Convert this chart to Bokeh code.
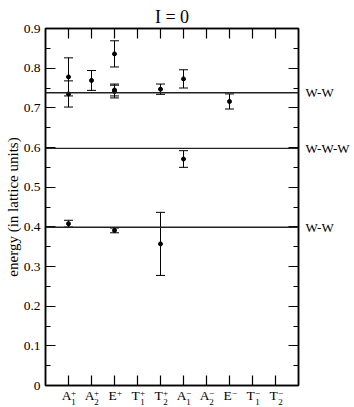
from bokeh.plotting import figure
from bokeh.models import (Range1d, FixedTicker, LinearAxis, Span, Whisker,
                          ColumnDataSource, TeeHead)
from bokeh.embed import file_html
from bokeh.resources import INLINE

# ---- data ----
categories = ["A1+", "A2+", "E+", "T1+", "T2+", "A1-", "A2-", "E-", "T1-", "T2-"]
cat_base = ["A", "A", "E", "T", "T", "A", "A", "E", "T", "T"]
cat_sub = ["1", "2", "", "1", "2", "1", "2", "", "1", "2"]
cat_sup = ["+", "+", "+", "+", "+", "\u2212", "\u2212", "\u2212", "\u2212", "\u2212"]

state_irrep = ["A1+", "A1+", "A2+", "E+", "E+", "E+", "T2+", "A1-", "E-",
               "A1-", "A1+", "E+", "T2+"]
state_energy = [0.778, 0.735, 0.769, 0.836, 0.745, 0.741, 0.747, 0.773, 0.716,
                0.571, 0.408, 0.391, 0.357]
state_error = [0.048, 0.033, 0.025, 0.033, 0.015, 0.016, 0.013, 0.023, 0.019,
               0.021, 0.0085, 0.006, 0.0795]

threshold_energy = [0.738, 0.598, 0.399]
threshold_label = ["W-W", "W-W-W", "W-W"]

y_ticks = [0.0, 0.1, 0.2, 0.3, 0.4, 0.5, 0.6, 0.7, 0.8, 0.9]
y_tick_labels = ["0", "0.1", "0.2", "0.3", "0.4", "0.5", "0.6", "0.7", "0.8", "0.9"]
y_minor = [0.05, 0.15, 0.25, 0.35, 0.45, 0.55, 0.65, 0.75, 0.85]

SERIF = "Liberation Serif"
W, H = 354, 407
BORDER_L, BORDER_R, BORDER_T, BORDER_B = 45, 56, 28, 22
NX = len(categories) + 1
PX = (W - BORDER_L - BORDER_R) / NX      # pixels per category step

xpos = [categories.index(c) + 1 for c in state_irrep]
src = ColumnDataSource(dict(
    x=xpos,
    y=state_energy,
    lower=[e - d for e, d in zip(state_energy, state_error)],
    upper=[e + d for e, d in zip(state_energy, state_error)],
))

p = figure(width=W, height=H, output_backend="svg", toolbar_location=None,
           x_range=Range1d(0, NX), y_range=Range1d(0, 0.9),
           min_border_left=BORDER_L, min_border_right=BORDER_R,
           min_border_top=BORDER_T, min_border_bottom=BORDER_B)

p.title.text = "I = 0"
p.title.align = "center"
p.title.text_font = SERIF
p.title.text_font_size = "18px"
p.title.text_font_style = "normal"
p.title.text_color = "black"
p.title.standoff = 4

p.grid.visible = False
p.outline_line_color = "black"
p.outline_line_width = 1.5
p.background_fill_color = "white"
p.border_fill_color = "white"

xticks = list(range(1, len(categories) + 1))
xt = FixedTicker(ticks=xticks, minor_ticks=[])
yt = FixedTicker(ticks=y_ticks, minor_ticks=y_minor)

def style_axis(ax, blank_ticks=None):
    ax.axis_line_color = "black"
    ax.axis_line_width = 1.5
    ax.major_tick_in = 10
    ax.major_tick_out = 0
    ax.minor_tick_in = 5
    ax.minor_tick_out = 0
    ax.major_tick_line_color = "black"
    ax.minor_tick_line_color = "black"
    ax.major_tick_line_width = 1.2
    ax.minor_tick_line_width = 1.2
    if blank_ticks is not None:
        ax.major_label_overrides = {t: "" for t in blank_ticks}
        ax.major_label_text_font_size = "1px"
        ax.major_label_standoff = 0

# bottom (ticks only)
p.xaxis.ticker = xt
style_axis(p.xaxis[0], xticks)
# left
p.yaxis.ticker = yt
style_axis(p.yaxis[0])
p.yaxis.major_label_overrides = {t: l for t, l in zip(y_ticks, y_tick_labels)}
p.yaxis.major_label_text_font = SERIF
p.yaxis.major_label_text_font_size = "13.5px"
p.yaxis.major_label_text_color = "black"
p.yaxis.major_label_standoff = 5
p.yaxis.axis_label = "energy (in lattice units)"
p.yaxis.axis_label_text_font = SERIF
p.yaxis.axis_label_text_font_size = "15px"
p.yaxis.axis_label_text_font_style = "normal"
p.yaxis.axis_label_text_color = "black"
p.yaxis.axis_label_standoff = 0

top_ax = LinearAxis(ticker=xt)
style_axis(top_ax, xticks)
p.add_layout(top_ax, "above")
right_ax = LinearAxis(ticker=yt)
style_axis(right_ax, y_ticks)
p.add_layout(right_ax, "right")

# threshold labels on the right, as an axis of their own
thr_ax = LinearAxis(ticker=FixedTicker(ticks=threshold_energy, minor_ticks=[]))
thr_ax.major_label_overrides = {v: l for v, l in zip(threshold_energy, threshold_label)}
thr_ax.axis_line_color = None
thr_ax.major_tick_line_color = None
thr_ax.minor_tick_line_color = None
thr_ax.major_tick_in = 0
thr_ax.major_tick_out = 0
thr_ax.major_label_standoff = 7
thr_ax.major_label_text_font = SERIF
thr_ax.major_label_text_font_size = "13px"
thr_ax.major_label_text_color = "black"
p.add_layout(thr_ax, "right")

# category labels: letter with stacked sub/superscript, each part a label-only
# axis stacked below the frame, its ticks nudged sideways by a few pixels
def label_axis(texts, dx_px, standoff, size):
    ticks = [t + dx_px / PX for t in xticks]
    keep = [(t, s) for t, s in zip(ticks, texts) if s]
    ax = LinearAxis(ticker=FixedTicker(ticks=[t for t, _ in keep], minor_ticks=[]))
    ax.major_label_overrides = {t: s for t, s in keep}
    ax.axis_line_color = None
    ax.major_tick_line_color = None
    ax.minor_tick_line_color = None
    ax.major_tick_in = 0
    ax.major_tick_out = 0
    ax.minor_tick_in = 0
    ax.minor_tick_out = 0
    ax.major_label_standoff = standoff
    ax.major_label_text_font = SERIF
    ax.major_label_text_font_size = size
    ax.major_label_text_color = "black"
    p.add_layout(ax, "below")

label_axis(cat_sup, 5.0, 4, "9px")         # superscripts
label_axis(cat_base, -2.0, -11, "13.5px")  # letters
label_axis(cat_sub, 5.0, -7, "9px")        # subscripts

for v in threshold_energy:
    p.add_layout(Span(location=v, dimension="width", line_color="#222222", line_width=1.3))

# error bars and points
p.add_layout(Whisker(source=src, base="x", lower="lower", upper="upper",
                     line_color="black", line_width=1,
                     upper_head=TeeHead(size=9, line_color="black", line_width=1),
                     lower_head=TeeHead(size=9, line_color="black", line_width=1)))
p.scatter("x", "y", source=src, size=4, color="black")

open("out.html", "w").write(file_html(p, INLINE))
